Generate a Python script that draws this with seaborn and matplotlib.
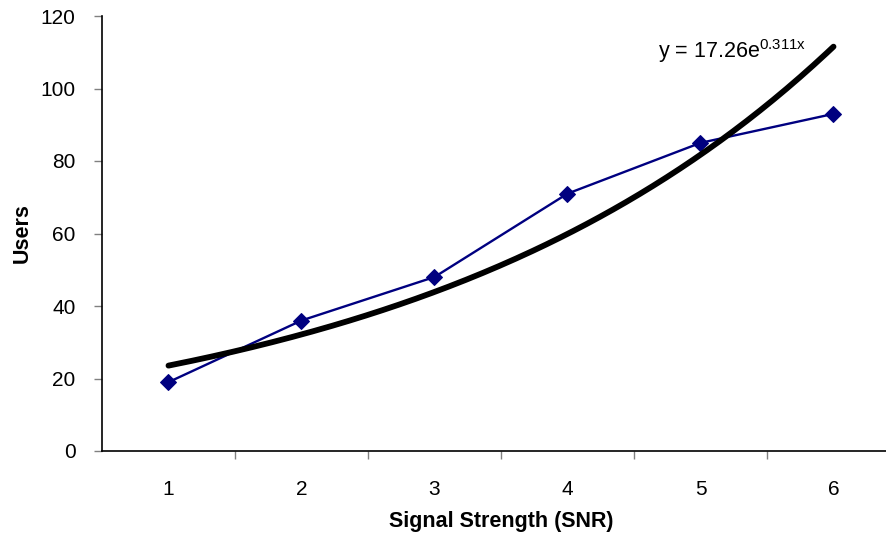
import numpy as np
import pandas as pd
import matplotlib
matplotlib.use("Agg")
import matplotlib.pyplot as plt
import seaborn as sns

snr = [1, 2, 3, 4, 5, 6]
users = [19, 36, 48, 71, 85, 93]
trend_a = 17.26
trend_b = 0.311
y_ticks = [0, 20, 40, 60, 80, 100, 120]

sns.set_style("white")
plt.rcParams['font.family'] = ['Liberation Sans', 'DejaVu Sans']
plt.rcParams['text.color'] = 'black'
plt.rcParams['xtick.labelcolor'] = 'black'
plt.rcParams['ytick.labelcolor'] = 'black'
plt.rcParams['axes.labelcolor'] = 'black'

fig = plt.figure(figsize=(8.87, 5.37), dpi=100)
ax = fig.add_axes([102/887, 86/537, 798/887, 435/537])

df = pd.DataFrame({"snr": snr, "users": users})
xs = np.linspace(min(snr), max(snr), 200)
trend = pd.DataFrame({"snr": xs, "users": trend_a * np.exp(trend_b * xs)})

sns.lineplot(data=df, x="snr", y="users", ax=ax, color="#000080", lw=1.7,
             marker="D", markersize=8, markeredgecolor="#000080", zorder=3)
sns.lineplot(data=trend, x="snr", y="users", ax=ax, color="black", lw=4.2,
             solid_capstyle="round", zorder=4)

ax.set_xlim(0.5, 6.5)
ax.set_ylim(0, 120)
ax.set_yticks(y_ticks)
ax.set_yticklabels([str(v) for v in y_ticks], fontsize=15)
ax.set_xticks(snr)
ax.set_xticklabels([str(v) for v in snr], fontsize=15)
ax.set_xticks(np.arange(1.5, 6.5, 1), minor=True)
ax.tick_params(axis="x", which="major", length=0, pad=21)
ax.tick_params(axis="x", which="minor", length=6, width=1, color="#808080", direction="out")
ax.tick_params(axis="y", which="major", length=6, width=1, color="#808080", direction="out", pad=13)
ax.tick_params(left=True)
ax.xaxis.set_tick_params(which="minor", bottom=True)

for s in ["top", "right"]:
    ax.spines[s].set_visible(False)
for s in ["left", "bottom"]:
    ax.spines[s].set_color("black")
    ax.spines[s].set_linewidth(1.2)

ax.set_xlabel("Signal Strength (SNR)", fontsize=15.5, fontweight="bold")
ax.set_ylabel("Users", fontsize=15.5, fontweight="bold")
ax.xaxis.set_label_coords((501-102)/798, -(511-451)/435)
ax.yaxis.set_label_coords(-(102-33)/798, (451-233)/435)

fig.text(658/887, 1 - 58/537, r"y = 17.26e$^{\mathregular{0.311x}}$", fontsize=15.5,
         ha="left", va="baseline")

fig.savefig("out.png", dpi=100)
